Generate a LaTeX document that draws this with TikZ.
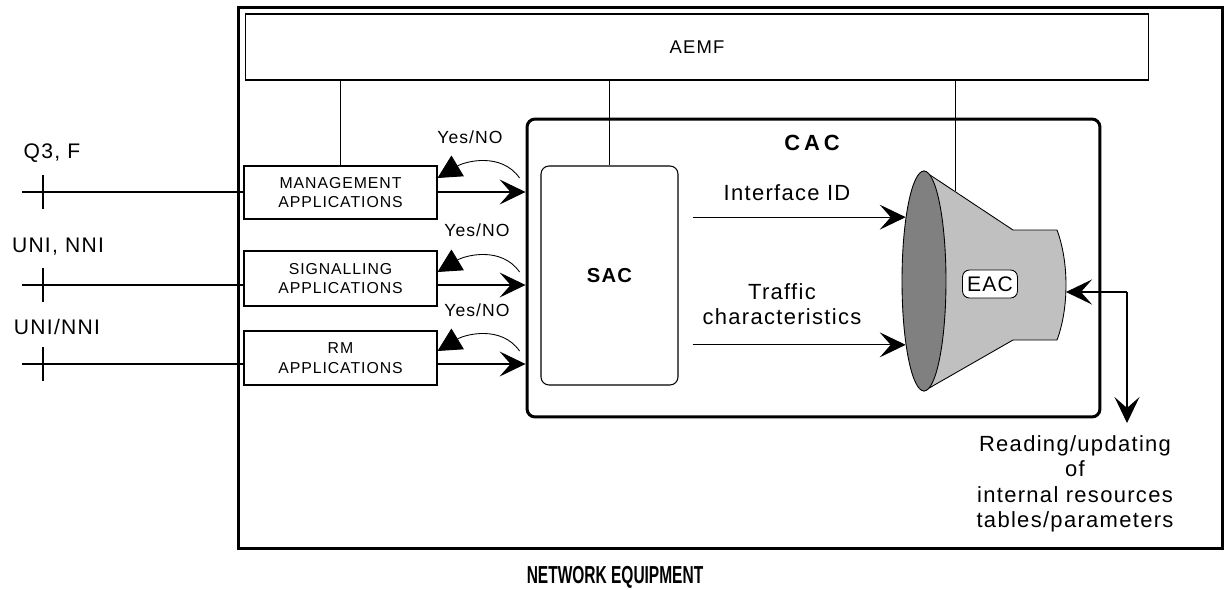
\documentclass[tikz,border=0pt]{standalone}
\usepackage{fontspec}
\setmainfont{Liberation Sans}[LetterSpace=6]
\newfontfamily\narrowfont{Liberation Sans}[FakeStretch=0.63]
\usepackage{tikz}
\usetikzlibrary{positioning, arrows.meta, shapes.geometric, calc}
\definecolor{conedark}{HTML}{808080}
\definecolor{conelight}{HTML}{C0C0C0}
\tikzstyle{outerbox} = [rectangle, draw, line width=1.7pt, inner sep=0pt]
\tikzstyle{aemfbox} = [rectangle, draw, line width=0.6pt, inner sep=0pt,
font=\fontsize{10.5}{12}\selectfont]
\tikzstyle{appblock} = [rectangle, draw, line width=0.6pt, minimum width=3.86cm,
align=center, inner sep=0pt, font=\fontsize{9}{11}\selectfont]
\tikzstyle{cacblock} = [rectangle, draw, rounded corners=0.16cm, line width=1.7pt, inner sep=0pt]
\tikzstyle{sacblock} = [rectangle, draw, rounded corners=0.16cm, line width=0.6pt, inner sep=0pt,
font=\fontsize{11.5}{13}\selectfont\bfseries]
\tikzstyle{eacblock} = [rectangle, draw, fill=white, rounded corners=0.14cm, line width=0.5pt,
minimum width=1.1cm, minimum height=0.56cm, inner sep=1pt, font=\fontsize{12}{14}\selectfont]
\tikzstyle{lbl} = [inner sep=0pt, font=\fontsize{12}{14.5}\selectfont]
\tikzstyle{biglbl} = [inner sep=0pt, align=center, font=\fontsize{12.5}{14.5}\selectfont]
\tikzstyle{ynlbl} = [inner sep=0pt, font=\fontsize{10}{12}\selectfont]
\tikzstyle{arrow} = [->, >={Stealth[length=0.52cm, width=0.5cm, inset=0.22cm]}, line width=0.6pt]
\tikzstyle{answer} = [-{Triangle[length=0.47cm, width=0.48cm]}, line width=0.5pt]

\begin{document}
\begin{tikzpicture}[x=0.02cm, y=-0.02cm]
    \useasboundingbox (0,0) rectangle (1225,589);
    % equipment frame and AEMF
    \node (ne) [outerbox, minimum width=19.7cm, minimum height=10.84cm] at (730.5,278) {};
    \node (nelbl) [inner sep=0pt, font={\narrowfont\fontsize{14}{16}\selectfont\bfseries}] at (615,577) {NETWORK EQUIPMENT};
    \node (aemf) [aemfbox, minimum width=18.08cm, minimum height=1.32cm] at (697,47) {AEMF};
    % applications
    \node (mgmt) [appblock, minimum height=1.06cm] at (340.5,192.5) {MANAGEMENT\\APPLICATIONS};
    \node (sig) [appblock, minimum height=1.1cm] at (340.5,278.5) {SIGNALLING\\APPLICATIONS};
    \node (rm) [appblock, minimum height=1.08cm] at (340.5,358) {RM\\APPLICATIONS};
    % CAC with SAC and EAC
    \node (cac) [cacblock, minimum width=11.46cm, minimum height=5.96cm] at (813.5,268) {};
    \node (caclbl) [inner sep=0pt, font={\fontsize{12.5}{14}\selectfont\bfseries\addfontfeature{LetterSpace=18}}] at (812,143) {CAC};
    \node (sac) [sacblock, minimum width=2.74cm, minimum height=4.38cm] at (609.5,275.5) {SAC};
    \filldraw[fill=conelight, line width=0.5pt] (924,171) -- (1013,230) -- (1057,230)
        .. controls (1069,262) and (1069,308) .. (1057,340) -- (1013,340) -- (924,391) -- cycle;
    \node (mouth) [ellipse, draw, fill=conedark, line width=0.5pt, minimum width=0.88cm,
        minimum height=4.4cm, inner sep=0pt] at (924,281) {};
    \node (eac) [eacblock] at (990,284) {EAC};
    \coordinate (tp) at (955,191);
    \coordinate (rim) at (1066,292);
    \coordinate (jn) at (1127,292);
    \coordinate (tabs) at (1127,423);
    \node (rd) [biglbl] at (1075,484) {Reading/updating\\of\\internal resources\\tables/parameters};
    % interfaces
    \coordinate (q3) at (22,192);
    \coordinate (uni) at (22,285);
    \coordinate (unn) at (22,364);
    \node (q3lbl) [lbl] at (52,153) {Q3, F};
    \node (unilbl) [lbl] at (58,247) {UNI, NNI};
    \node (unnlbl) [lbl] at (57,327) {UNI/NNI};
    \draw [line width=0.6pt] (q3) -- (q3 -| mgmt.west);
    \draw [line width=0.6pt] (uni) -- (uni -| sig.west);
    \draw [line width=0.6pt] (unn) -- (unn -| rm.west);
    \draw [line width=0.6pt] ($(q3)+(21,-17)$) -- ($(q3)+(21,17)$);
    \draw [line width=0.6pt] ($(uni)+(21,-17)$) -- ($(uni)+(21,17)$);
    \draw [line width=0.6pt] ($(unn)+(21,-17)$) -- ($(unn)+(21,17)$);
    % requests and answers
    \draw [arrow] (q3 -| mgmt.east) -- (q3 -| cac.west);
    \draw [arrow] (uni -| sig.east) -- (uni -| cac.west);
    \draw [arrow] (unn -| rm.east) -- (unn -| cac.west);
    \draw [answer] ($(q3 -| cac.west)+(-6,-14)$) to[out=125, in=31] ($(q3 -| mgmt.east)+(0,-14)$);
    \draw [answer] ($(uni -| cac.west)+(-6,-13)$) to[out=125, in=31] ($(uni -| sig.east)+(0,-13)$);
    \draw [answer] ($(unn -| cac.west)+(-6,-13)$) to[out=125, in=31] ($(unn -| rm.east)+(0,-13)$);
    \node (yn1) [ynlbl] at (470,137) {Yes/NO};
    \node (yn2) [ynlbl] at (477,230) {Yes/NO};
    \node (yn3) [ynlbl] at (477,310) {Yes/NO};
    % AEMF links
    \draw [line width=0.5pt] (aemf.south -| mgmt.north) -- (mgmt.north);
    \draw [line width=0.5pt] (aemf.south -| sac.north) -- (sac.north);
    \draw [line width=0.5pt] (aemf.south -| tp) -- (tp);
    % SAC to EAC
    \node (ifid) [biglbl] at (787,193) {Interface ID};
    \node (trf) [biglbl] at (782,304) {Traffic\\characteristics};
    \draw [arrow] ($(sac.east |- mouth.106)+(14,0)$) -- (mouth.106);
    \draw [arrow] ($(sac.east |- mouth.254)+(14,0)$) -- (mouth.254);
    \draw [arrow] (jn) -- (rim);
    \draw [arrow] (jn) -- (tabs);
\end{tikzpicture}
\end{document}
